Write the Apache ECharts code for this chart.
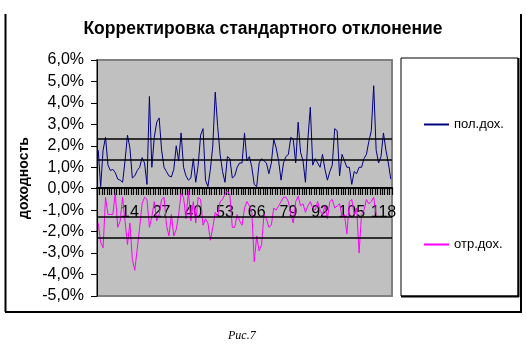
<!DOCTYPE html>
<html>
<head>
<meta charset="utf-8">
<script src="https://cdn.jsdelivr.net/npm/echarts@6/dist/echarts.min.js"></script>
<style>
  html, body { margin: 0; padding: 0; background: #fff; }
  #chart { width: 526px; height: 353px; }
</style>
</head>
<body>
<div id="chart"></div>
<script>
// periods 1..121
const periods = Array.from({ length: 121 }, (_, i) => String(i + 1))

// positive returns, %
const posReturns = [
  1.8, 0.1, 1.8, 2.4, 1.1, 0.85, 0.9, 0.75, 0.45, 0.4,
  0.3, 1.3, 2.5, 1.9, 0.5, 0.6, 0.85, 1.0, 1.45, 1.2,
  0.2, 4.3, 1.0, 2.4, 3.1, 3.3, 1.8, 1.0, 0.8, 0.6,
  0.55, 0.9, 2.0, 1.3, 2.6, 1.0, 0.6, 0.4, 0.5, 1.4,
  0.3, 1.1, 2.5, 2.8, 0.4, 0.1, 0.9, 2.0, 4.5, 2.9,
  1.6, 0.8, 0.3, 1.5, 1.4, 0.5, 0.6, 1.0, 1.2, 1.2,
  2.6, 1.3, 1.5, 1.0, 0.2, 0.1, 1.2, 1.4, 1.3, 1.2,
  0.7, 1.2, 2.3, 1.9, 1.3, 0.4, 1.2, 1.5, 1.6, 2.4,
  2.3, 1.2, 3.1, 1.7, 1.3, 0.3, 2.3, 3.8, 1.1, 1.4,
  1.2, 1.0, 1.6, 0.9, 0.4, 0.8, 1.1, 2.8, 2.7, 0.6,
  1.6, 1.3, 1.0, 1.0, 0.2, 0.8, 0.7, 1.0, 1.0, 1.4,
  1.6, 2.2, 2.7, 4.8, 1.8, 1.2, 1.5, 2.6, 1.8, 1.2,
  0.45
]

// negative returns, %
const negReturns = [
  -1.6, -2.5, -2.75, -0.4, -1.2, -1.2, -1.2, -0.2, -1.8, -1.5,
  -0.4, -1.5, -2.6, -1.6, -3.3, -3.8, -2.8, -1.8, -0.7, -0.4,
  -0.5, -1.8, -1.3, -0.6, -1.5, -1.2, -0.5, -0.4, -1.7, -2.2,
  -1.2, -2.2, -1.9, -1.2, -0.2, -0.4, -1.4, -0.1, -1.5, -0.6,
  -1.6, -0.4, -0.5, -1.7, -1.4, -1.6, -2.4, -1.8, -1.1, -1.3,
  -0.6, -0.5, -0.25, -0.1, -0.3, -1.8, -1.8, -1.2, -1.5, -1.7,
  -0.9, -0.6, -0.8, -1.1, -3.4, -2.2, -2.9, -2.6, -1.2, -1.4,
  -1.8, -1.7, -0.9, -1.0, -0.8, -0.6, -0.4, -0.4, -0.6, -1.2,
  -1.6, -0.6, -0.35, -0.8, -0.7, -1.1, -0.8, -0.6, -0.9, -1.0,
  -0.6, -1.0, -1.2, -0.8, -1.4, -0.6, -0.5, -0.9, -0.8, -0.7,
  -1.3, -1.2, -2.1, -0.6, -0.5, -1.2, -0.9, -3.0, -1.2, -1.0,
  -0.5, -0.7, -0.6, -0.4, -1.2, null, null, null, null, null,
  null
]

// horizontal reference lines (standard deviation bands), %
const bandLines = [2.33, 1.35, -1.31, -2.28]

const seriesNames = ['пол.дох.', 'отр.дох.']

const chart = echarts.init(document.getElementById('chart'))

chart.setOption({
  animation: false,
  title: {
    text: 'Корректировка стандартного отклонение',
    left: 'center',
    top: 15,
    textStyle: { fontFamily: 'Liberation Sans', fontSize: 17.5, fontWeight: 'bold', color: '#000' }
  },
  legend: {
    data: [
      { name: seriesNames[0], itemStyle: { color: '#000080' } },
      { name: seriesNames[1], itemStyle: { color: '#ff00ff' } }
    ],
    orient: 'vertical',
    left: 419,
    top: 113,
    icon: 'rect',
    itemGap: 107,
    itemWidth: 25,
    itemHeight: 2,
    textStyle: { fontFamily: 'Liberation Sans', fontSize: 13, color: '#000' }
  },
  grid: {
    left: 97,
    right: 134,
    top: 60,
    bottom: 57,
    show: true,
    backgroundColor: '#c0c0c0',
    borderColor: '#808080',
    borderWidth: 2
  },
  xAxis: {
    type: 'category',
    data: periods,
    boundaryGap: true,
    // the category axis sits on the 0% line: 108px above the grid bottom
    offset: -108,
    axisLine: { onZero: false, lineStyle: { color: '#000', width: 2 } },
    axisTick: { show: true, interval: 0, length: 7, lineStyle: { color: '#000', width: 1.2 } },
    axisLabel: {
      interval: (idx) => idx > 0 && idx % 13 === 0,
      margin: 17,
      fontFamily: 'Liberation Sans',
      fontSize: 16,
      color: '#000'
    },
    splitLine: { show: false }
  },
  yAxis: {
    type: 'value',
    min: -5,
    max: 6,
    interval: 1,
    name: 'доходность',
    nameLocation: 'middle',
    nameRotate: 90,
    nameGap: 60,
    nameTextStyle: { fontFamily: 'Liberation Sans', fontSize: 14, fontWeight: 'bold', color: '#000' },
    axisLine: { show: true, lineStyle: { color: '#000', width: 1 } },
    axisTick: { show: true, length: 6, lineStyle: { color: '#000' } },
    axisLabel: {
      margin: 13,
      fontFamily: 'Liberation Sans',
      fontSize: 16,
      color: '#000',
      formatter: (v) => v.toFixed(1).replace('.', ',') + '%'
    },
    splitLine: { show: false }
  },
  series: [
    {
      name: seriesNames[0],
      type: 'line',
      data: posReturns,
      symbol: 'none',
      lineStyle: { color: '#000080', width: 1 },
      itemStyle: { color: '#000080' },
      markLine: {
        silent: true,
        symbol: 'none',
        label: { show: false },
        lineStyle: { color: '#000', type: 'solid', width: 1.5 },
        data: bandLines.map(v => ({ yAxis: v }))
      }
    },
    {
      name: seriesNames[1],
      type: 'line',
      data: negReturns,
      symbol: 'none',
      connectNulls: false,
      lineStyle: { color: '#ff00ff', width: 1 },
      itemStyle: { color: '#ff00ff' }
    }
  ],
  graphic: [
    // legend frame
    { type: 'rect', shape: { x: 401, y: 58, width: 117, height: 238 }, style: { fill: 'none', stroke: '#000', lineWidth: 1 } },
    { type: 'line', shape: { x1: 518.5, y1: 58, x2: 518.5, y2: 297 }, style: { stroke: '#000', lineWidth: 2 } },
    { type: 'line', shape: { x1: 401, y1: 296.5, x2: 519, y2: 296.5 }, style: { stroke: '#000', lineWidth: 2 } },
    // chart area frame
    { type: 'line', shape: { x1: 5.5, y1: 14, x2: 5.5, y2: 312 }, style: { stroke: '#000', lineWidth: 2 } },
    { type: 'line', shape: { x1: 521, y1: 14, x2: 521, y2: 312 }, style: { stroke: '#000', lineWidth: 2 } },
    { type: 'line', shape: { x1: 5, y1: 312, x2: 522, y2: 312 }, style: { stroke: '#000', lineWidth: 2 } },
    // figure captions
    { type: 'text', left: 53, top: -9, style: { text: 'Рис.7', font: 'italic 12px "Liberation Serif"', fill: '#000' } },
    { type: 'text', left: 228, top: 330, style: { text: 'Рис.7', font: 'italic 12px "Liberation Serif"', fill: '#000' } }
  ]
})
</script>
</body>
</html>
